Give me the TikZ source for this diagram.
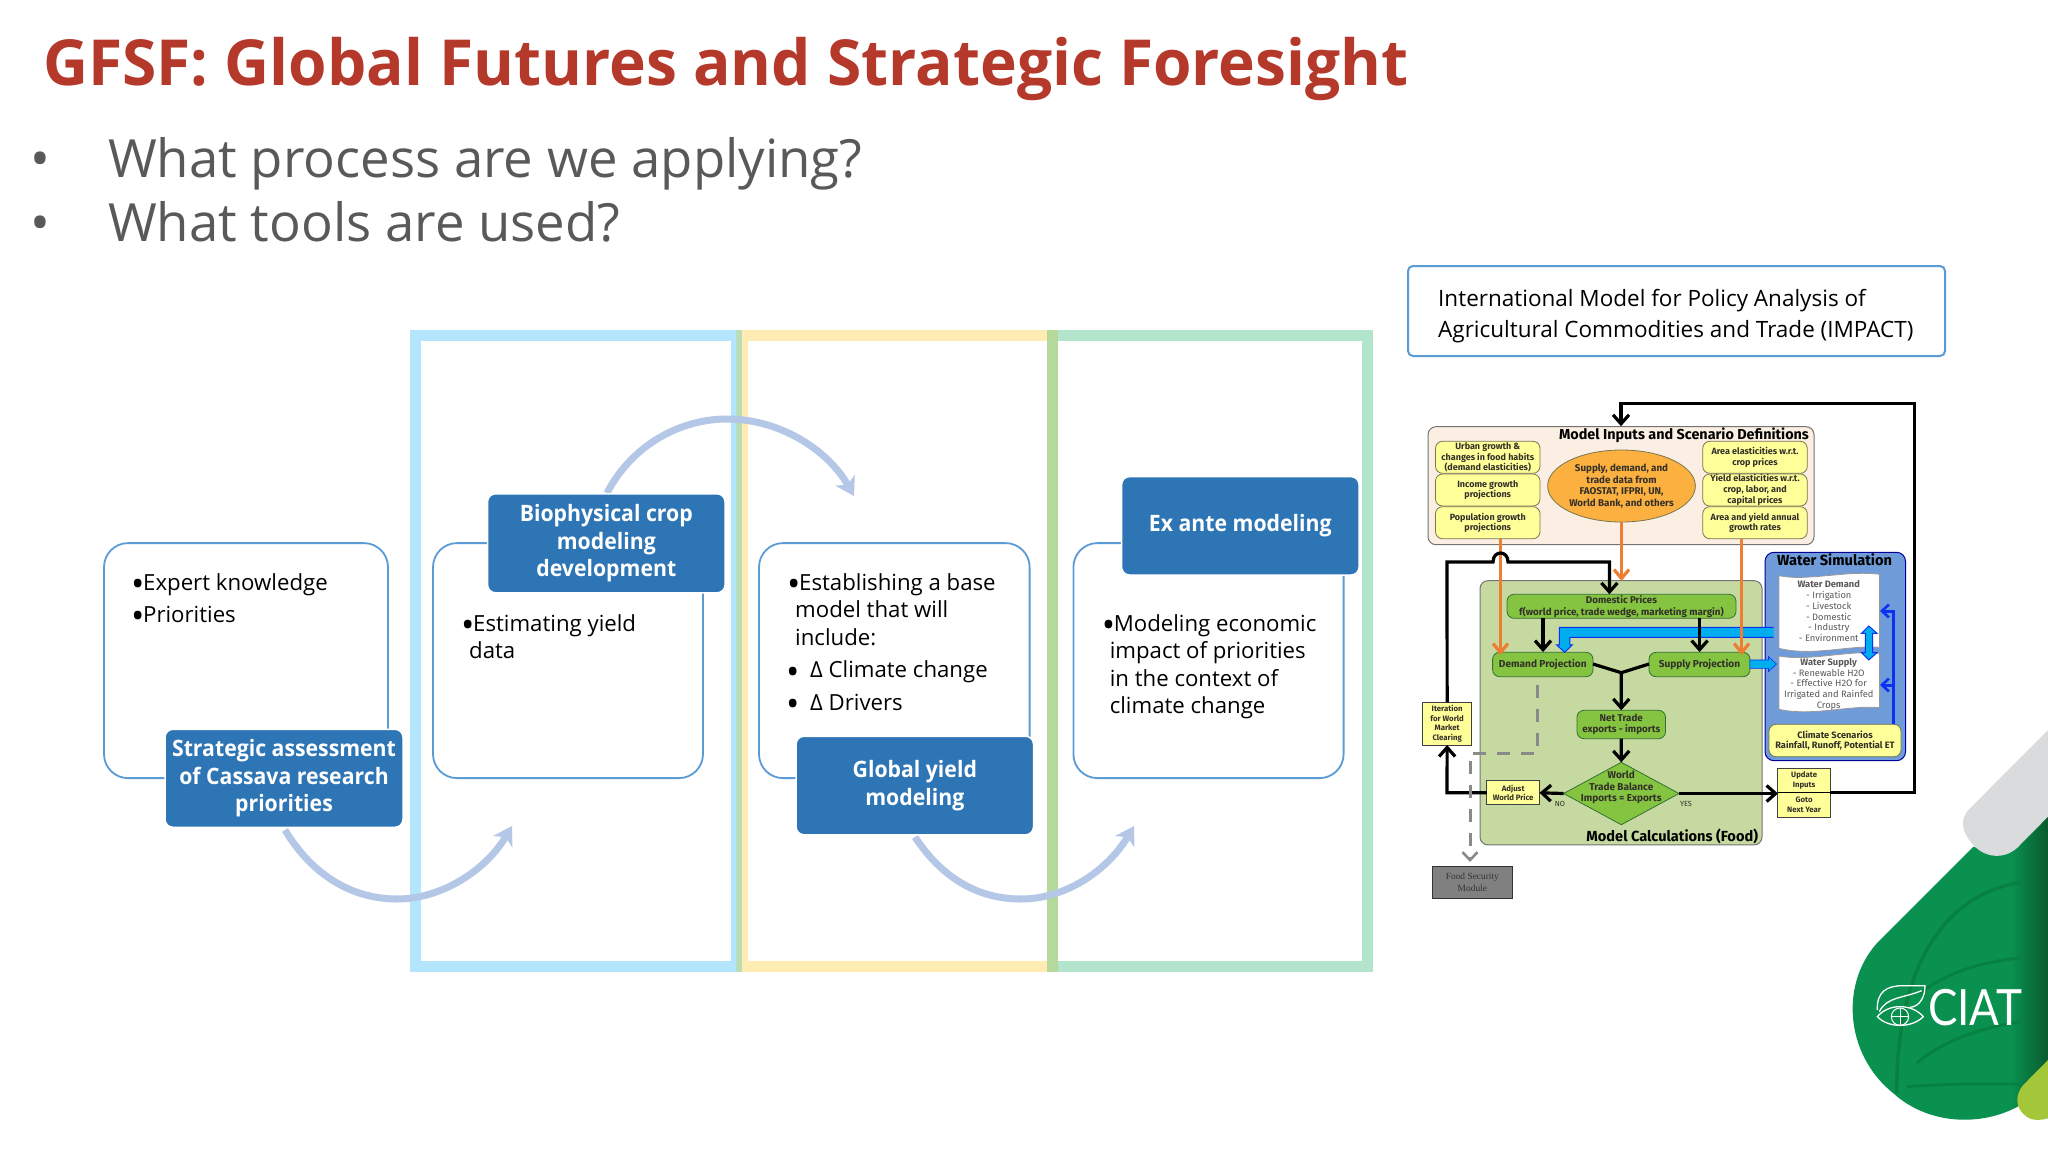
\documentclass[tikz,border=0pt]{standalone}
\usepackage{fontspec}
\setmainfont{Open Sans}
\newfontfamily\hdrfont[FakeStretch=0.94]{Open Sans}
\newfontfamily\titlefont[FakeStretch=0.98]{Open Sans}
\newfontfamily\fcfont{Fira Sans}
\newfontfamily\logofont[FakeStretch=0.88]{Lato}
\newfontfamily\foodfont{Liberation Serif}
\usetikzlibrary{shapes.geometric,arrows.meta}
\definecolor{titlered}{HTML}{B5392A}
\definecolor{bodygray}{HTML}{595959}
\definecolor{framea}{HTML}{B3E5FC}
\definecolor{frameb}{HTML}{FFECB3}
\definecolor{framec}{HTML}{B2E5CC}
\definecolor{overab}{HTML}{B8DDB8}
\definecolor{overbc}{HTML}{B5D99A}
\definecolor{hdrblue}{HTML}{2E75B6}
\definecolor{boxline}{HTML}{5B9BD5}
\definecolor{arcblue}{HTML}{B4C7E7}
\definecolor{fcyellow}{HTML}{FFFF99}
\definecolor{fcline}{HTML}{77774F}
\definecolor{fcorange}{HTML}{FBB040}
\definecolor{fcpeach}{HTML}{FBEFE3}
\definecolor{fcgreen}{HTML}{C6D9A0}
\definecolor{fcleaf}{HTML}{84C441}
\definecolor{fcwater}{HTML}{6F9BD8}
\definecolor{fcarrow}{HTML}{ED7D31}
\definecolor{fccyan}{HTML}{00AEEF}
\definecolor{fcblue}{HTML}{0A32F0}
\definecolor{fcgray}{HTML}{8A8A8A}
\definecolor{logogreen}{HTML}{0A9150}
\definecolor{logodeep}{HTML}{0A5A2E}
\definecolor{logodark}{HTML}{07813F}
\definecolor{logogray}{HTML}{D9DBDC}
\definecolor{logolime}{HTML}{A4C639}
\pgfdeclarehorizontalshading{logoshade}{100bp}{color(0bp)=(logogreen);color(66bp)=(logogreen);color(75bp)=(logodeep);color(100bp)=(logodeep)}
\newcommand{\bul}{\smash{\raisebox{-6.5pt}{\scalebox{1.6}{•}}}}
\tikzset{
  procbox/.style={draw=boxline,line width=1.8pt,rounded corners=24pt,fill=white,minimum height=235pt,inner sep=0pt},
  hdr/.style={fill=hdrblue,draw=white,line width=1.5pt,rounded corners=8pt,text=white,align=center,inner sep=0pt,font=\hdrfont\fontsize{22.6}{27.4}\selectfont\bfseries},
  body/.style={anchor=north west,align=left,inner sep=0pt,text=black,font=\fontsize{22.2}{27.5}\selectfont},
  arc/.style={draw=arcblue,line width=7pt,-{Stealth[length=18pt,width=22pt,inset=5pt]}},
  fcbase/.style={inner sep=0pt,outer sep=0pt,align=center,font=\fcfont\fontsize{9}{10.7}\selectfont\bfseries,text=black!85!olive},
  yround/.style={fcbase,draw=fcline,line width=0.8pt,fill=fcyellow,rounded corners=7pt,minimum width=104.5pt,minimum height=32pt},
  leaf/.style={fcbase,draw=black!60!green!60!gray,line width=0.8pt,fill=fcleaf,rounded corners=7pt,minimum height=24.4pt},
  yrect/.style={fcbase,draw=black!50!gray,line width=1pt,fill=fcyellow,font=\fcfont\fontsize{7.8}{9.8}\selectfont\bfseries},
  blk/.style={draw=black,line width=3.2pt,-{Straight Barb[length=9pt,width=16pt,line width=3.2pt]}},
  org/.style={draw=fcarrow,line width=3.4pt,-{Straight Barb[length=9pt,width=15pt,line width=3.2pt]}},
  wtext/.style={fcbase,text=black!65,font=\fcfont\fontsize{9.3}{10.7}\selectfont}
}
\begin{document}
\begin{tikzpicture}[x=1pt,y=-1pt]
\useasboundingbox (0,0) rectangle (2048,1152);
\fill[white] (0,0) rectangle (2048,1152);

% title and bullets
\node[anchor=base west,inner sep=0pt,text=titlered,font=\titlefont\fontsize{63.5}{70}\selectfont\bfseries] (title) at (43,85) {GFSF: Global Futures and Strategic Foresight};
\node[anchor=base west,inner sep=0pt,text=bodygray,font=\fontsize{52.7}{60}\selectfont] (q1) at (30,177) {\makebox[78pt][l]{•}What process are we applying?};
\node[anchor=base west,inner sep=0pt,text=bodygray,font=\fontsize{52.7}{60}\selectfont] (q2) at (30,241) {\makebox[78pt][l]{•}What tools are used?};

% coloured frames
\draw[framea,line width=11pt] (415,335) rectangle (736,966);
\draw[frameb,line width=11pt] (742,335) rectangle (1052,966);
\draw[framec,line width=11pt] (1052,335) rectangle (1367,966);
\fill[overab] (736,329.5) rectangle (741.5,971.5);
\fill[overbc] (1046.5,329.5) rectangle (1057.5,971.5);

% process boxes
\node[procbox,minimum width=284pt] (b1) at (246,660.6) {};
\node[procbox,minimum width=270pt] (b2) at (568,660.6) {};
\node[procbox,minimum width=270.6pt] (b3) at (894.3,660.6) {};
\node[procbox,minimum width=270.2pt] (b4) at (1208.5,660.6) {};

% curved arrows
\coordinate (a1s) at (285,830); \coordinate (a1m) at (397,899); \coordinate (a1e) at (512,826);
\coordinate (a2s) at (607,493); \coordinate (a2m) at (727,419); \coordinate (a2e) at (854,496);
\coordinate (a3s) at (915,837); \coordinate (a3m) at (1021,899); \coordinate (a3e) at (1134,826);
\draw[arc] (a1s) .. controls (312,875) and (352,899) .. (a1m) .. controls (442,899) and (486,870) .. (a1e);
\draw[arc] (a2s) .. controls (632,445) and (680,419) .. (a2m) .. controls (780,419) and (828,450) .. (a2e);
\draw[arc] (a3s) .. controls (942,878) and (978,899) .. (a3m) .. controls (1066,899) and (1108,870) .. (a3e);

% headers
\node[hdr,minimum width=238pt,minimum height=98pt] (h1) at (284,778.3) {Strategic assessment\\of Cassava research\\priorities};
\node[hdr,minimum width=237.5pt,minimum height=99pt] (h2) at (606.3,543.3) {Biophysical crop\\modeling\\development};
\node[hdr,minimum width=237.5pt,minimum height=98.5pt] (h3) at (914.8,785.5) {Global yield\\modeling};
\node[hdr,minimum width=237.5pt,minimum height=98.4pt] (h4) at (1240.3,525.8) {\raisebox{-2pt}{Ex ante modeling}};

% body text
\node[body] (t1) at (131,573) {\makebox[12pt][l]{\bul}Expert knowledge\\[4.5pt]\makebox[12pt][l]{\bul}Priorities};
\node[body] (t2) at (461,614) {\makebox[12pt][l]{\bul}Estimating yield\\\hspace*{8pt}data};
\node[body] (t3) at (787,573) {\makebox[12pt][l]{\bul}Establishing a base\\\hspace*{8pt}model that will\\\hspace*{8pt}include:\\[5pt]\makebox[23pt][l]{\hspace*{-1pt}\bul}Δ Climate change\\[5pt]\makebox[23pt][l]{\hspace*{-1pt}\bul}Δ Drivers};
\node[body] (t4) at (1101.6,614) {\makebox[12pt][l]{\bul}Modeling economic\\\hspace*{8pt}impact of priorities\\\hspace*{8pt}in the context of\\\hspace*{8pt}climate change};

% IMPACT caption
\node[draw=boxline,line width=2pt,rounded corners=5pt,minimum width=537pt,minimum height=90pt,inner sep=0pt] (cap) at (1676.5,311) {};
\node[anchor=west,inner sep=0pt,align=left,font=\fontsize{22.5}{31}\selectfont] (capt) at (1438,316) {International Model for Policy Analysis of\\Agricultural Commodities and Trade (IMPACT)};

% ---------- flow chart ----------
\node[draw=black!55,line width=1pt,fill=fcpeach,rounded corners=8pt,minimum width=386pt,minimum height=118pt,inner sep=0pt] (inp) at (1621,485.7) {};
\node[fcbase,font=\fcfont\fontsize{14.4}{15}\selectfont\bfseries,text=black] (inpt) at (1684,435.7) {Model Inputs and Scenario Definitions};
\node[yround] (l1) at (1487.75,457.3) {Urban growth \&\\changes in food habits\\(demand elasticities)};
\node[yround] (l2) at (1487.75,490) {Income growth\\projections};
\node[yround] (l3) at (1487.75,522.7) {Population growth\\projections};
\node[yround] (r1) at (1755,457.3) {Area elasticities w.r.t.\\crop prices};
\node[yround] (r2) at (1755,490) {Yield elasticities w.r.t.\\crop, labor, and\\capital prices};
\node[yround] (r3) at (1755,522.7) {Area and yield annual\\growth rates};
\node[ellipse,fcbase,draw=fcline,line width=0.8pt,fill=fcorange,minimum width=145pt,minimum height=72pt,font=\fcfont\fontsize{9.8}{11.7}\selectfont\bfseries] (ell) at (1621.5,486) {Supply, demand, and\\trade data from\\FAOSTAT, IFPRI, UN,\\World Bank, and others};

\node[draw=black!55,line width=1pt,fill=fcgreen,rounded corners=8pt,minimum width=282pt,minimum height=264.3pt,inner sep=0pt] (main) at (1621,712.8) {};
\node[fcbase,anchor=east,font=\fcfont\fontsize{14.6}{15}\selectfont\bfseries,text=black] (maint) at (1758,836) {Model Calculations (Food)};
\node[leaf,minimum width=229pt,minimum height=24pt,font=\fcfont\fontsize{9.8}{11.7}\selectfont\bfseries] (dom) at (1621.5,606.3) {Domestic Prices\\f(world price, trade wedge, marketing margin)};
\node[leaf,minimum width=100.4pt,font=\fcfont\fontsize{10.1}{12}\selectfont\bfseries] (dem) at (1542.8,664.5) {Demand Projection};
\node[leaf,minimum width=101pt,font=\fcfont\fontsize{10.1}{12}\selectfont\bfseries] (sup) at (1699.5,664.5) {Supply Projection};
\node[leaf,minimum width=88.5pt,minimum height=28.4pt,font=\fcfont\fontsize{9.8}{11.7}\selectfont\bfseries] (net) at (1621.25,724.5) {Net Trade\\exports - imports};
\node[diamond,draw=black!60!green!60!gray,line width=0.8pt,fill=fcleaf,minimum width=115.4pt,minimum height=62.4pt,inner sep=0pt,outer sep=0pt] (dia) at (1621.3,793.5) {};
\node[fcbase,font=\fcfont\fontsize{10}{11.7}\selectfont\bfseries] (diat) at (1621.3,787.5) {World\\Trade Balance\\Imports = Exports};
\node[yrect,minimum width=52.7pt,minimum height=24.3pt] (adj) at (1513.15,792.8) {Adjust\\World Price};
\node[yrect,minimum width=49pt,minimum height=42.7pt] (ite) at (1447.15,723.7) {Iteration\\for World\\Market\\Clearing};
\node[yrect,minimum width=52.6pt,minimum height=24.4pt] (upd) at (1804.1,780.5) {Update\\Inputs};
\node[yrect,minimum width=52.6pt,minimum height=24.6pt] (gto) at (1804.1,805) {Goto\\Next Year};
\node[fcbase,font=\fcfont\fontsize{7.4}{9}\selectfont] (no) at (1560,804.3) {NO};
\node[fcbase,font=\fcfont\fontsize{7.4}{9}\selectfont] (yes) at (1686,804.3) {YES};
\node[draw=black!80,line width=1pt,fill=black!50,minimum width=79.3pt,minimum height=32pt,inner sep=0pt,align=center,text=black!80,font=\foodfont\fontsize{9.4}{12}\selectfont] (food) at (1472.35,882.3) {Food Security\\Module};

% water simulation
\node[draw=blue!60!black,line width=1pt,fill=fcwater,rounded corners=9pt,minimum width=140.5pt,minimum height=208.4pt,inner sep=0pt] (wat) at (1835.25,656.5) {};
\node[fcbase,font=\fcfont\fontsize{14.6}{15}\selectfont\bfseries,text=black] (watt) at (1834.6,560) {Water Simulation};
\begin{scope}[shift={(1400,390)},x=0.3444pt,y=-0.3333pt]
  \draw[fill=white,draw=black!40,line width=0.8pt] (1100,557) .. controls (1180,575) and (1300,540) .. (1392,553) -- (1392,772) .. controls (1300,765) and (1200,800) .. (1100,775) -- cycle;
  \draw[fill=white,draw=black!40,line width=0.8pt] (1100,798) .. controls (1190,815) and (1300,780) .. (1392,790) -- (1392,953) .. controls (1300,945) and (1200,980) .. (1100,958) -- cycle;
\end{scope}
\node[wtext,align=center] (wd) at (1828.7,611.2) {\textbf{Water Demand}\\- Irrigation\\- Livestock\\- Domestic\\- Industry\\- Environment};
\node[wtext,align=center] (ws) at (1828.7,684.3) {\textbf{Water Supply}\\- Renewable H2O\\- Effective H2O for\\Irrigated and Rainfed\\Crops};
\node[yround,minimum width=132pt,minimum height=32.4pt,font=\fcfont\fontsize{9.25}{10.7}\selectfont\bfseries] (cli) at (1835,740.5) {Climate Scenarios\\Rainfall, Runoff, Potential ET};

% blue arrows in zoom coordinates
\begin{scope}[shift={(1400,390)},x=0.3444pt,y=-0.3333pt]
  \fill[fccyan] (1085,712) -- (463,712) -- (463,765) -- (455,765) -- (478,787) -- (500,765) -- (493,765) -- (493,742) -- (1085,742) -- cycle;
  \draw[fcblue,line width=1pt] (1085,712) -- (463,712) -- (463,765) -- (455,765) -- (478,787) -- (500,765) -- (493,765) -- (493,742) -- (1085,742);
  \fill[fccyan,draw=fcblue,line width=0.6pt] (1016,810) -- (1070,810) -- (1070,800) -- (1093,822) -- (1070,845) -- (1070,835) -- (1016,835) -- cycle;
  \fill[fccyan,draw=fcblue,line width=1pt] (1361,708) -- (1385,730) -- (1372,730) -- (1372,788) -- (1385,788) -- (1361,810) -- (1340,788) -- (1351,788) -- (1351,730) -- (1340,730) -- cycle;
\end{scope}
\coordinate (wb) at (1893,611);
\coordinate (wc) at (1893,685);
\draw[fcblue,line width=3pt,-{Straight Barb[length=7pt,width=13pt,line width=2.6pt]}] ([xshift=58pt]cli.north) -- (wb) -- (1880,611);
\draw[fcblue,line width=3pt,-{Straight Barb[length=7pt,width=13pt,line width=2.6pt]}] (wc) -- (1880,685);

% connectors
\draw[org] (1500.5,538.7) -- (1500.5,655);
\draw[org] (ell.south) -- (1621.5,581);
\draw[org] (1741.6,538.7) -- (1741.6,655);
\coordinate (y) at (1621.3,672.7);
\draw[blk] (1543,618.3) -- (1543,652);
\draw[blk] (1699.6,618.3) -- (1699.6,652);
\draw[draw=black,line width=3.2pt,line join=bevel] (1593,664) -- (y) -- (1649,664);
\draw[blk] (y) -- (net.north);
\draw[blk] (net.south) -- (dia.north);
\draw[blk] (dia.west) -- (adj.east);
\draw[blk] (dia.east) -- (1778,793.5);
\draw[draw=black,line width=1.2pt] (upd.south west) -- (upd.south east);
\draw[blk] (adj.west) -- (1447,792.8) -- (ite.south);
\draw[blk] (ite.north) -- (1447,562) -- (1493,562) .. controls (1493,550) and (1508,550) .. (1508,562) -- (1609.4,562) -- (1609.4,594.3);
\draw[blk] (upd.south east) -- (1914.8,792.7) -- (1914.8,403.3) -- (1621,403.3) -- (inp.north);
\draw[fcgray,line width=3pt,dash pattern=on 13pt off 11pt,-{Straight Barb[length=8pt,width=15pt,line width=2.6pt]}] (1537.7,685) -- (1537.7,753.3) -- (1470,753.3) -- (1470,862);

% ---------- logo ----------
\begin{scope}[shift={(1820,720)},x=0.3333pt,y=-0.3333pt]
  \path[shading=logoshade] (684,290) -- (520,400) -- (460,380) -- (180,660) .. controls (60,780) and (70,1000) .. (220,1120) .. controls (330,1220) and (500,1220) .. (610,1150) -- (684,1100) -- cycle;
  \begin{scope}
    \clip (684,290) -- (460,380) -- (180,660) .. controls (60,780) and (70,1000) .. (220,1120) .. controls (330,1220) and (500,1220) .. (610,1150) -- (684,1100) -- (600,1100) -- (600,300) -- cycle;
    \draw[logodark,line width=3.5pt] (230,1120) .. controls (230,700) and (400,480) .. (684,480);
    \draw[logodark,line width=3pt] (300,820) .. controls (400,740) and (550,710) .. (684,710);
    \draw[logodark,line width=3pt] (290,1030) .. controls (380,950) and (550,900) .. (684,900);
    \draw[logodark,line width=3pt] (260,1100) .. controls (400,1090) and (560,1090) .. (684,1095);
  \end{scope}
  \fill[logogray] (684,30) -- (445,270) .. controls (415,305) and (430,345) .. (465,380) .. controls (500,415) and (560,420) .. (600,375) -- (684,290) -- cycle;
  \fill[logolime] (684,1020) -- (610,1095) .. controls (580,1130) and (590,1170) .. (620,1190) .. controls (640,1205) and (665,1200) .. (684,1195) -- cycle;
  \draw[white,line width=1.3pt] (172,870) .. controls (170,815) and (200,797) .. (250,797) -- (315,797) .. controls (315,830) and (300,860) .. (270,862);
  \draw[white,line width=1.3pt] (178,875) .. controls (200,830) and (250,835) .. (305,812);
  \draw[white,line width=1.3pt] (172,890) .. controls (205,850) and (275,850) .. (310,890) .. controls (275,925) and (205,925) .. (172,890) -- cycle;
  \draw[white,line width=1pt] (240,890) circle[radius=26];
  \draw[white,line width=1pt] (214,890) -- (266,890) (240,864) -- (240,916);
\end{scope}
\node[anchor=base west,inner sep=0pt,text=white,font=\logofont\fontsize{50}{52}\selectfont] (ciat) at (1928,1025) {CIAT};
\end{tikzpicture}
\end{document}
